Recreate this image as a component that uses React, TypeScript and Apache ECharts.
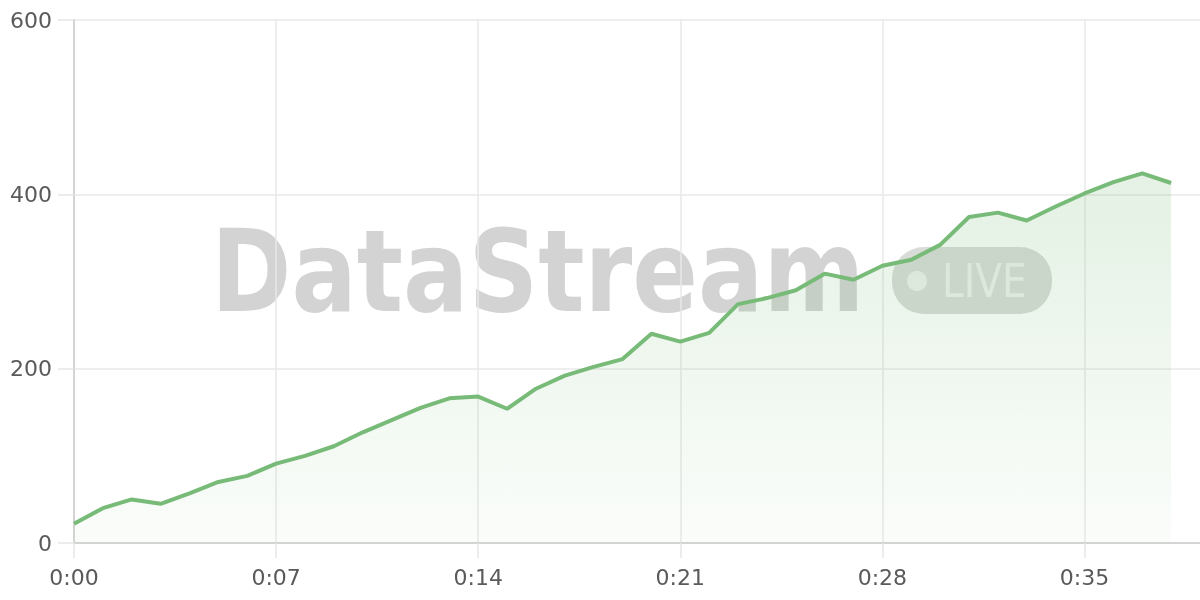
import { useEffect, useRef } from 'react'
import * as echarts from 'echarts'

// 时间轴（秒）
const timeLabels: string[] = Array.from({ length: 40 }, (_, i) => `${Math.floor(i / 60)}:${String(i % 60).padStart(2, '0')}`)
// 数据
const streamValues: number[] = [
  22, 40, 50, 45, 57, 70, 77, 91, 100, 111,
  127, 141, 155, 166, 168, 154, 177, 192, 202, 211,
  240, 231, 241, 274, 281, 290, 309, 302, 318, 325,
  342, 374, 379, 370, 386, 401, 414, 424, 413
]
const yTicks = { min: 0, max: 600, interval: 200 }

const App: React.FC = () => {
  const chartContainerRef = useRef<HTMLDivElement | null>(null)

  useEffect(() => {
    if (chartContainerRef.current === null) return
    const chart = echarts.init(chartContainerRef.current, undefined, { renderer: 'svg' })
    const labelFont = '"DejaVu Sans", sans-serif'
    chart.setOption({
      animation: false,
      grid: { left: 74, right: 0, top: 20, bottom: 57 },
      // 水印
      graphic: [
        {
          type: 'text',
          z: -10,
          x: 211,
          y: 272,
          scaleX: 0.85,
          style: {
            x: 0,
            y: 0,
            text: 'DataStream',
            font: 'bold 114px "DejaVu Sans", sans-serif',
            fill: 'rgba(190,190,190,0.68)',
            textVerticalAlign: 'middle'
          }
        },
        {
          type: 'rect',
          z: -10,
          shape: { x: 892, y: 247, width: 160, height: 67, r: 32 },
          style: { fill: 'rgba(170,175,170,0.45)' }
        },
        {
          type: 'circle',
          z: -9,
          shape: { cx: 917, cy: 281, r: 10 },
          style: { fill: 'rgba(255,255,255,0.6)' }
        },
        {
          type: 'text',
          z: -9,
          x: 942,
          y: 281,
          scaleX: 0.85,
          style: {
            x: 0,
            y: 0,
            text: 'LIVE',
            font: '500 46px "DejaVu Sans", sans-serif',
            fill: 'rgba(255,255,255,0.6)',
            textVerticalAlign: 'middle'
          }
        }
      ],
      xAxis: {
        type: 'category',
        boundaryGap: false,
        data: timeLabels,
        axisLine: { lineStyle: { color: '#d4d4d4', width: 2 } },
        axisTick: { show: true, interval: 6, length: 15, lineStyle: { color: '#e6e6e6', width: 1.5 } },
        axisLabel: { interval: 6, margin: 23, fontSize: 22, color: '#5a5a5a', fontFamily: labelFont },
        splitLine: { show: true, interval: 6, lineStyle: { color: '#e8e8e8', width: 1.5 } }
      },
      yAxis: {
        type: 'value',
        min: yTicks.min,
        max: yTicks.max,
        interval: yTicks.interval,
        axisLine: { show: true, lineStyle: { color: '#d4d4d4', width: 2 } },
        axisTick: { show: true, length: 16, lineStyle: { color: '#e6e6e6', width: 1.5 } },
        axisLabel: { margin: 22, fontSize: 22, color: '#5a5a5a', fontFamily: labelFont },
        splitLine: { lineStyle: { color: '#e8e8e8', width: 1.5 } }
      },
      series: [
        {
          type: 'line',
          data: streamValues,
          symbol: 'none',
          lineStyle: { color: '#78bb78', width: 4 },
          areaStyle: {
            color: new echarts.graphic.LinearGradient(0, 0, 0, 1, [
              { offset: 0, color: 'rgba(118,185,118,0.28)' },
              { offset: 1, color: 'rgba(118,185,118,0.05)' }
            ])
          }
        }
      ]
    })
    return () => {
      chart.dispose()
    }
  }, [])

  return (
    <div ref={chartContainerRef} style={{ position: 'fixed', left: 0, top: 0, width: 1200, height: 600 }}></div>
  )
}

export default App
